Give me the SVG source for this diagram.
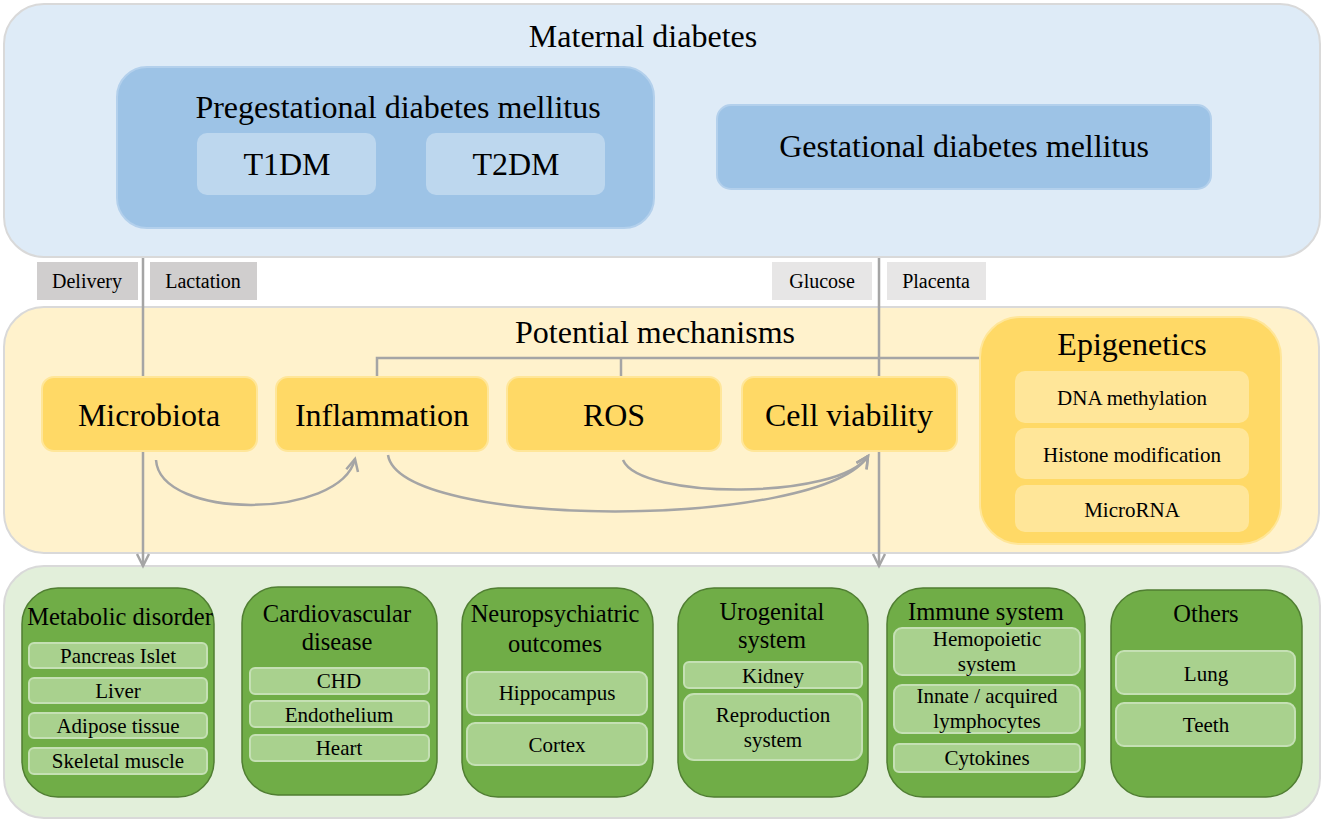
<svg xmlns="http://www.w3.org/2000/svg" width="1325" height="824" viewBox="0 0 1325 824">
<style>
text{font-family:"Liberation Serif","DejaVu Serif","Noto Serif",serif;fill:#000;text-anchor:middle}
.big{font-size:32px}
.gt{font-size:24.5px}
.gs{font-size:21px}
.es{font-size:21px}
.lb{font-size:20px}
.panel{stroke:#d9d9d9;stroke-width:2}
.blue{fill:#9dc3e6;stroke:#b3d0ec;stroke-width:2}
.lblue{fill:#bdd7ee}
.mech{fill:#ffd966;stroke:#ffe699;stroke-width:2}
.esub{fill:#ffe699}
.green{fill:#70ad47;stroke:#507e32;stroke-width:1.5}
.gsub{fill:#a9d18e;stroke:#c5e0b4;stroke-width:2}
.lab1{fill:#d0cece}
.lab2{fill:#e7e6e6}
.con{fill:none;stroke:#a5a5a5;stroke-width:2.5}
</style>
<defs>
<marker id="ah" markerUnits="userSpaceOnUse" markerWidth="18" markerHeight="18" viewBox="0 0 18 18" refX="15" refY="9" orient="auto">
<path d="M3,3 L15,9 L3,15" fill="none" stroke="#a5a5a5" stroke-width="2.5"/>
</marker>
</defs>

<g id="panel-maternal">
<rect class="panel" x="4" y="4" width="1316" height="253" rx="40" fill="#deebf7"/>
<text class="big" x="643" y="47">Maternal diabetes</text>
</g>
<g id="panel-mechanisms">
<rect class="panel" x="4" y="307" width="1315" height="246" rx="40" fill="#fff2cc"/>
<text class="big" x="655" y="343">Potential mechanisms</text>
</g>
<g id="panel-outcomes">
<rect class="panel" x="4" y="566" width="1316" height="252" rx="40" fill="#e2efda"/>
</g>

<g id="connectors">
<line class="con" x1="143" y1="258" x2="143" y2="566" marker-end="url(#ah)"/>
<line class="con" x1="879" y1="258" x2="879" y2="566" marker-end="url(#ah)"/>
<polyline class="con" points="377,378 377,358 980,358"/>
<line class="con" x1="621" y1="358" x2="621" y2="378"/>
<path class="con" d="M156,460 C160,520 340,520 355,459" marker-end="url(#ah)"/>
<path class="con" d="M388,455 C400,530 820,530 868,456" marker-end="url(#ah)"/>
<path class="con" d="M623,460 C640,500 840,500 868,456" marker-end="url(#ah)"/>
</g>

<g id="pregestational">
<rect class="blue" x="117" y="67" width="537" height="161" rx="30"/>
<text class="big" x="398" y="118">Pregestational diabetes mellitus</text>
</g>
<g id="t1dm">
<rect class="lblue" x="197" y="133" width="179" height="62" rx="10"/>
<text class="big" x="287" y="175">T1DM</text>
</g>
<g id="t2dm">
<rect class="lblue" x="426" y="133" width="179" height="62" rx="10"/>
<text class="big" x="516" y="175">T2DM</text>
</g>
<g id="gestational">
<rect class="blue" x="717" y="105" width="494" height="84" rx="14"/>
<text class="big" x="964" y="157">Gestational diabetes mellitus</text>
</g>

<g id="label-delivery"><rect class="lab1" x="37" y="262" width="101" height="38"/><text class="lb" x="87" y="288">Delivery</text></g>
<g id="label-lactation"><rect class="lab1" x="150" y="262" width="107" height="38"/><text class="lb" x="203" y="288">Lactation</text></g>
<g id="label-glucose"><rect class="lab2" x="772" y="262" width="100" height="38"/><text class="lb" x="822" y="288">Glucose</text></g>
<g id="label-placenta"><rect class="lab2" x="887" y="262" width="99" height="38"/><text class="lb" x="936" y="288">Placenta</text></g>

<g id="microbiota"><rect class="mech" x="42" y="377" width="215" height="74" rx="12"/><text class="big" x="149" y="426">Microbiota</text></g>
<g id="inflammation"><rect class="mech" x="276" y="377" width="212" height="74" rx="12"/><text class="big" x="382" y="426">Inflammation</text></g>
<g id="ros"><rect class="mech" x="507" y="377" width="214" height="74" rx="12"/><text class="big" x="614" y="426">ROS</text></g>
<g id="cell-viability"><rect class="mech" x="742" y="377" width="215" height="74" rx="12"/><text class="big" x="849" y="426">Cell viability</text></g>

<g id="epigenetics">
<rect class="mech" x="980" y="317" width="301" height="227" rx="40"/>
<text class="big" x="1132" y="355">Epigenetics</text>
<rect class="esub" x="1015" y="371" width="234" height="52" rx="10"/>
<text class="es" x="1132" y="405">DNA methylation</text>
<rect class="esub" x="1015" y="428" width="234" height="51" rx="10"/>
<text class="es" x="1132" y="462">Histone modification</text>
<rect class="esub" x="1015" y="485" width="234" height="47" rx="10"/>
<text class="es" x="1132" y="517">MicroRNA</text>
</g>

<g id="metabolic">
<rect class="green" x="22" y="588" width="192" height="209" rx="36"/>
<text class="gt" x="120" y="625">Metabolic disorder</text>
<rect class="gsub" x="29" y="643" width="178" height="25" rx="5"/><text class="gs" x="118" y="663">Pancreas Islet</text>
<rect class="gsub" x="29" y="678" width="178" height="25" rx="5"/><text class="gs" x="118" y="698">Liver</text>
<rect class="gsub" x="29" y="713" width="178" height="25" rx="5"/><text class="gs" x="118" y="733">Adipose tissue</text>
<rect class="gsub" x="29" y="748" width="178" height="26" rx="5"/><text class="gs" x="118" y="768">Skeletal muscle</text>
</g>
<g id="cardiovascular">
<rect class="green" x="242" y="587" width="195" height="208" rx="36"/>
<text class="gt" x="337" y="622">Cardiovascular</text>
<text class="gt" x="337" y="650">disease</text>
<rect class="gsub" x="250" y="668" width="179" height="26" rx="5"/><text class="gs" x="339" y="688">CHD</text>
<rect class="gsub" x="250" y="701" width="179" height="26" rx="5"/><text class="gs" x="339" y="722">Endothelium</text>
<rect class="gsub" x="250" y="735" width="179" height="26" rx="5"/><text class="gs" x="339" y="755">Heart</text>
</g>
<g id="neuropsychiatric">
<rect class="green" x="462" y="588" width="191" height="209" rx="36"/>
<text class="gt" x="555" y="622">Neuropsychiatric</text>
<text class="gt" x="555" y="652">outcomes</text>
<rect class="gsub" x="467" y="672" width="180" height="43" rx="8"/><text class="gs" x="557" y="700">Hippocampus</text>
<rect class="gsub" x="467" y="723" width="180" height="42" rx="8"/><text class="gs" x="557" y="752">Cortex</text>
</g>
<g id="urogenital">
<rect class="green" x="678" y="588" width="190" height="209" rx="36"/>
<text class="gt" x="772" y="620">Urogenital</text>
<text class="gt" x="772" y="648">system</text>
<rect class="gsub" x="684" y="662" width="178" height="26" rx="5"/><text class="gs" x="773" y="683">Kidney</text>
<rect class="gsub" x="684" y="694" width="178" height="66" rx="10"/>
<text class="gs" x="773" y="722">Reproduction</text>
<text class="gs" x="773" y="747">system</text>
</g>
<g id="immune">
<rect class="green" x="887" y="588" width="198" height="209" rx="36"/>
<text class="gt" x="986" y="620">Immune system</text>
<rect class="gsub" x="894" y="628" width="186" height="47" rx="8"/>
<text class="gs" x="987" y="646">Hemopoietic</text>
<text class="gs" x="987" y="671">system</text>
<rect class="gsub" x="894" y="685" width="186" height="48" rx="8"/>
<text class="gs" x="987" y="703">Innate / acquired</text>
<text class="gs" x="987" y="728">lymphocytes</text>
<rect class="gsub" x="894" y="744" width="186" height="28" rx="5"/><text class="gs" x="987" y="765">Cytokines</text>
</g>
<g id="others">
<rect class="green" x="1111" y="590" width="191" height="207" rx="36"/>
<text class="gt" x="1206" y="622">Others</text>
<rect class="gsub" x="1116" y="651" width="179" height="43" rx="8"/><text class="gs" x="1206" y="681">Lung</text>
<rect class="gsub" x="1116" y="703" width="179" height="43" rx="8"/><text class="gs" x="1206" y="732">Teeth</text>
</g>
</svg>
